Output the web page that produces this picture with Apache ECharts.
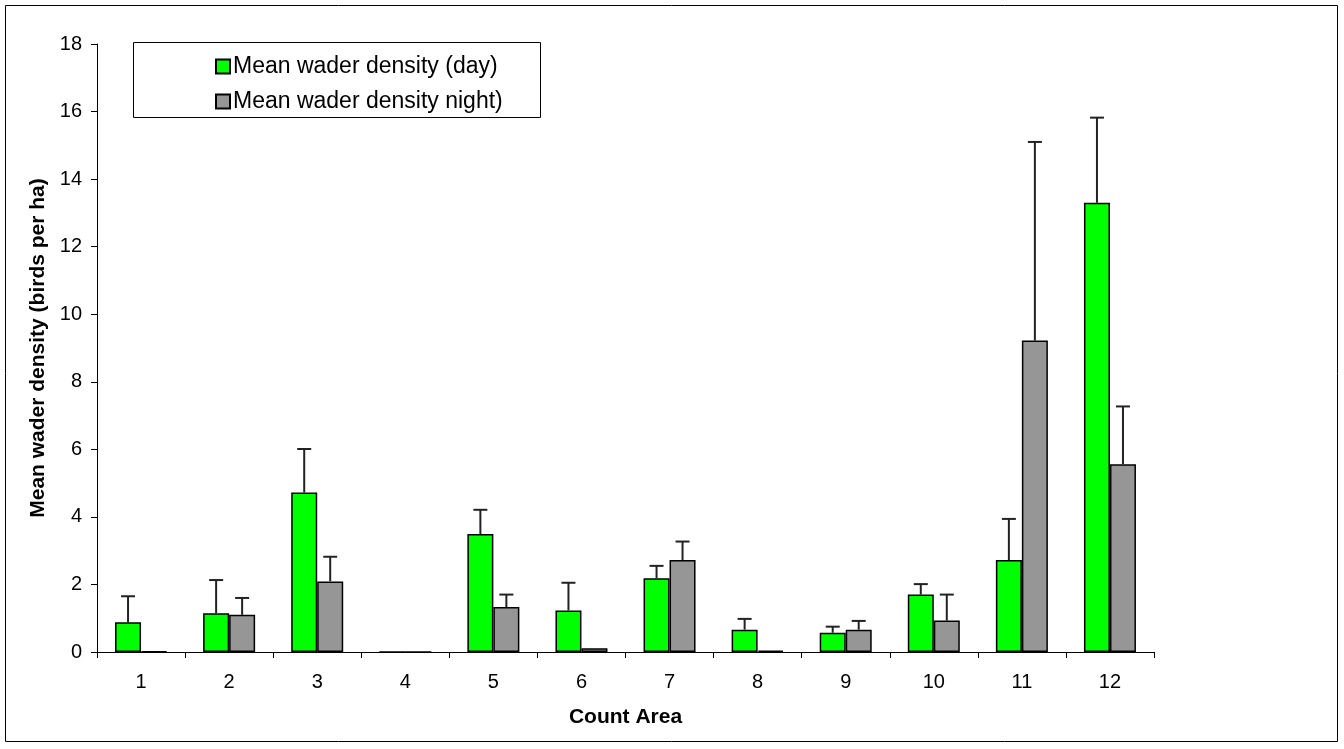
<!DOCTYPE html>
<html>
<head>
<meta charset="utf-8">
<script src="https://cdn.jsdelivr.net/npm/echarts@6/dist/echarts.min.js"></script>
<style>
  html, body { margin: 0; padding: 0; background: #fff; }
  #chart { width: 1344px; height: 749px; }
</style>
</head>
<body>
<div id="chart"></div>
<script>
// data
const areas = ['1', '2', '3', '4', '5', '6', '7', '8', '9', '10', '11', '12']
const dayMean = [0.88, 1.15, 4.72, 0, 3.49, 1.23, 2.18, 0.66, 0.57, 1.70, 2.72, 13.30]
const dayUpper = [1.65, 2.13, 6.01, null, 4.21, 2.05, 2.55, 0.98, 0.75, 2.01, 3.94, 15.82]
const nightMean = [0.02, 1.10, 2.09, 0, 1.33, 0.11, 2.72, 0.04, 0.66, 0.93, 9.22, 5.56]
const nightUpper = [null, 1.60, 2.82, null, 1.70, null, 3.27, null, 0.92, 1.70, 15.10, 7.27]
const yTicks = [0, 2, 4, 6, 8, 10, 12, 14, 16, 18]

const BAR_W = 26
const font = 'Arial, "Liberation Sans", sans-serif'

// upper error bar with a cap, shifted onto its own bar of the pair
function errorSeries(means, uppers, shift) {
  return {
    type: 'custom',
    silent: true,
    z: 3,
    data: areas.map((a, i) => [i, means[i], uppers[i]]),
    renderItem: (params, api) => {
      if (api.value(2) == null || isNaN(api.value(2))) return null
      const base = api.coord([api.value(0), api.value(1)])
      const top = api.coord([api.value(0), api.value(2)])
      const x = base[0] + shift
      const style = { stroke: '#222', lineWidth: 2 }
      return {
        type: 'group',
        children: [
          { type: 'line', shape: { x1: x, y1: base[1], x2: x, y2: top[1] }, style },
          { type: 'line', shape: { x1: x - 7, y1: top[1], x2: x + 7, y2: top[1] }, style }
        ]
      }
    }
  }
}

const chart = echarts.init(document.getElementById('chart'))
chart.setOption({
  animation: false,
  backgroundColor: '#fff',
  textStyle: { fontFamily: font },
  graphic: [
    { type: 'rect', shape: { x: 5.5, y: 5.5, width: 1332, height: 736 },
      style: { fill: 'none', stroke: '#000', lineWidth: 1 }, z: 0 },
    { type: 'rect', shape: { x: 133.5, y: 42.5, width: 407, height: 75 },
      style: { fill: '#fff', stroke: '#000', lineWidth: 1 }, z: 10 }
  ],
  legend: {
    orient: 'vertical',
    left: 210,
    top: 50,
    itemWidth: 14,
    itemHeight: 14,
    itemGap: 12,
    icon: 'rect',
    z: 20,
    textStyle: { fontSize: 23, color: '#000', fontFamily: font, padding: [0, 0, 0, -2] },
    data: ['Mean wader density (day)', 'Mean wader density night)']
  },
  grid: { left: 97, right: 190, top: 44, bottom: 97 },
  xAxis: {
    type: 'category',
    data: areas,
    name: 'Count Area',
    nameLocation: 'middle',
    nameGap: 55,
    nameTextStyle: { fontSize: 21, fontWeight: 'bold', color: '#000' },
    axisLine: { lineStyle: { color: '#000', width: 1 } },
    axisTick: { show: true, length: 6, inside: false, lineStyle: { color: '#000' } },
    axisLabel: { fontSize: 20, color: '#000', margin: 20 }
  },
  yAxis: {
    type: 'value',
    min: 0,
    max: 18,
    interval: 2,
    name: 'Mean wader density (birds per ha)',
    nameLocation: 'middle',
    nameGap: 48,
    nameTextStyle: { fontSize: 21, fontWeight: 'bold', color: '#000' },
    splitLine: { show: false },
    axisLine: { show: true, lineStyle: { color: '#000', width: 1 } },
    axisTick: { show: true, length: 6, lineStyle: { color: '#000' } },
    axisLabel: { fontSize: 20, color: '#000', margin: 15,
      formatter: v => yTicks.includes(v) ? String(v) : '' }
  },
  series: [
    {
      name: 'Mean wader density (day)',
      type: 'bar',
      barWidth: BAR_W,
      barGap: '0%',
      data: dayMean,
      itemStyle: { color: '#00ff00', borderColor: '#000', borderWidth: 1.5 }
    },
    {
      name: 'Mean wader density night)',
      type: 'bar',
      barWidth: BAR_W,
      barGap: '0%',
      data: nightMean,
      itemStyle: { color: '#969696', borderColor: '#000', borderWidth: 1.5 }
    },
    errorSeries(dayMean, dayUpper, -BAR_W / 2),
    errorSeries(nightMean, nightUpper, BAR_W / 2)
  ]
})
</script>
</body>
</html>
